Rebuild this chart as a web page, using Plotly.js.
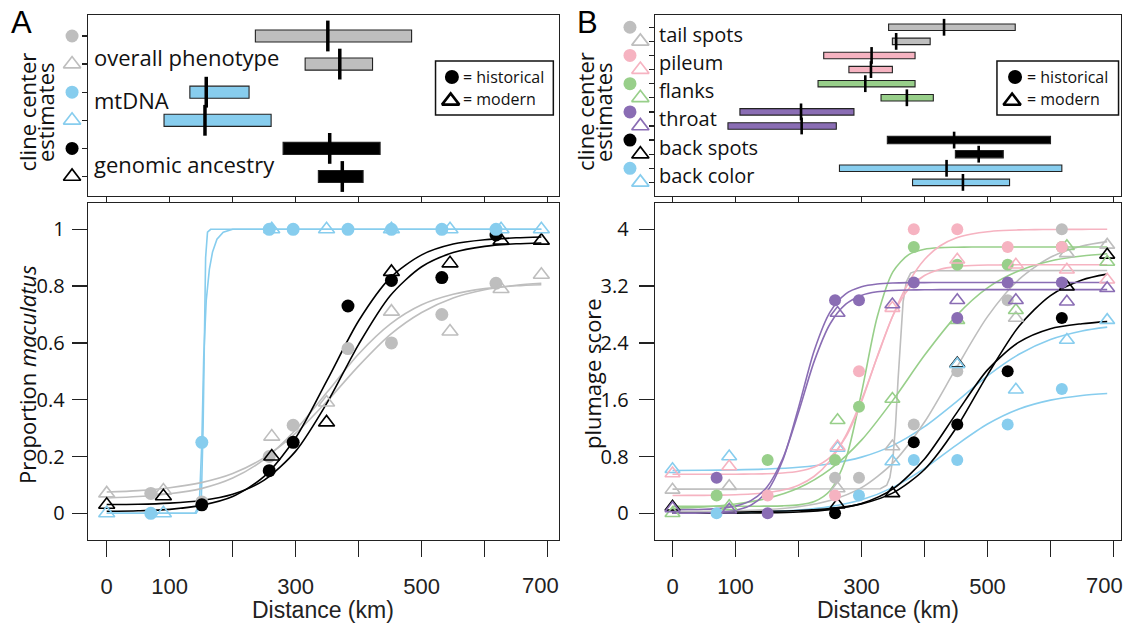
<!DOCTYPE html>
<html><head><meta charset="utf-8">
<script src="https://cdn.plot.ly/plotly-3.0.1.min.js"></script>
<style>html,body{margin:0;padding:0;background:#fff}#chart{width:1131px;height:625px}</style>
</head><body><div id="chart"></div>
<script>
// ---------- colours ----------
const GRAY = '#bebebe', BLUE = '#87cdee', PINK = '#f6b3c1', GREEN = '#98cf8a', PURPLE = '#8a6db4', BLACK = '#000000';

// ---------- sampling sites (km) ----------
const xHist = [70, 151, 258, 296, 383, 452, 532, 618];
const xMod  = [0, 90, 262, 349, 452, 545, 626, 690];

// ---------- Panel A: points ----------
const phenoHist = [0.07, 0.04, 0.2, 0.31, 0.58, 0.6, 0.7, 0.81];
const phenoMod  = [0.07, 0.08, 0.27, 0.39, 0.71, 0.64, 0.79, 0.84];
const mtHist    = [0, 0.25, 1, 1, 1, 1, 1, 1];
const mtMod     = [0, 0, 1, 1, 1, 1, 1, 1];
const genHist   = [null, 0.03, 0.15, 0.25, 0.73, 0.82, 0.83, 0.98];
const genMod    = [0.03, 0.06, 0.2, 0.32, 0.85, 0.88, 0.96, 0.96];

// ---------- Panel A: fitted clines ----------
const xFitA = [0, 50, 100, 150, 200, 250, 300, 350, 400, 450, 500, 550, 600, 650, 690];
const genHistFit   = [0.007, 0.009, 0.014, 0.028, 0.059, 0.13, 0.266, 0.469, 0.678, 0.829, 0.91, 0.948, 0.963, 0.97, 0.973];
const genModFit    = [0.031, 0.032, 0.036, 0.045, 0.067, 0.117, 0.219, 0.39, 0.595, 0.766, 0.868, 0.918, 0.94, 0.949, 0.952];
const phenoHistFit = [0.054, 0.059, 0.069, 0.087, 0.124, 0.19, 0.294, 0.427, 0.561, 0.666, 0.734, 0.771, 0.791, 0.801, 0.805];
const phenoModFit  = [0.075, 0.08, 0.09, 0.108, 0.14, 0.196, 0.282, 0.395, 0.519, 0.629, 0.707, 0.758, 0.787, 0.803, 0.81];
const mtHistFitX = [0, 140, 147, 151, 154, 158, 163, 168, 175, 185, 200, 690];
const mtHistFitY = [0, 0, 0.03, 0.25, 0.55, 0.75, 0.86, 0.92, 0.965, 0.99, 1, 1];
const mtModFitX  = [0, 142, 150, 153, 155, 157, 160, 165, 690];
const mtModFitY  = [0, 0, 0.03, 0.3, 0.6, 0.9, 0.99, 1, 1];

// ---------- Panel A: cline centre estimates ----------
const rowsA   = [6, 5, 4, 3, 2, 1];
const loA     = [236, 315, 132, 91, 280, 336];
const hiA     = [484, 422, 226, 261, 434, 407];
const centerA = [351, 370, 158, 156, 354, 374];
const colorsA = [GRAY, GRAY, BLUE, BLUE, BLACK, BLACK];
const labelsA = ['overall phenotype', 'mtDNA', 'genomic ancestry'];
const labelYA = [5.25, 3.72, 1.45];

// ---------- Panel B: points ----------
const tailHist  = [null, null, 0.5, 0.5, 1.25, 2.0, 3.0, 4.0];
const tailMod   = [0.33, 0.38, 0.35, 0.94, 2.1, 2.75, 3.66, 3.78];
const pileHist  = [null, 0.25, 0.25, 2.0, 4.0, 4.0, 3.75, 3.75];
const pileMod   = [0.56, 0.66, 0.94, 2.89, 3.57, 3.5, 3.43, 3.29];
const flankHist = [0.25, 0.75, 0.75, 1.5, 3.75, 3.5, 3.5, 3.75];
const flankMod  = [0, 0.1, 1.31, 1.61, 2.72, 2.86, 3.76, 3.54];
const throatHist= [0.5, 0, 3.0, 3.0, 3.25, 2.75, 3.25, 3.25];
const throatMod = [0.07, 0.05, 2.82, 2.94, 3.0, 3.0, 2.98, 3.17];
const bspotHist = [null, null, 0, null, 1.0, 1.25, 2.0, 2.75];
const bspotMod  = [0.09, null, 0.12, 0.28, 2.11, null, 3.19, 3.64];
const bcolHist  = [0, null, null, 0.25, 0.75, 0.75, 1.25, 1.75];
const bcolMod   = [0.62, 0.8, 0.92, 0.73, 2.1, 1.74, 2.44, 2.72];

// ---------- Panel B: fitted clines ----------
const xFitB50 = [0, 50, 100, 150, 200, 250, 300, 350, 400, 450, 500, 550, 600, 650, 690];
const tailHistFit  = [0.023, 0.027, 0.035, 0.053, 0.093, 0.18, 0.361, 0.71, 1.285, 2.04, 2.77, 3.295, 3.605, 3.764, 3.826];
const bspotHistFit = [0, 0.001, 0.003, 0.007, 0.019, 0.052, 0.137, 0.343, 0.765, 1.4, 2.02, 2.41, 2.6, 2.67, 2.7];
const bspotModFit  = [0.02, 0.021, 0.023, 0.028, 0.039, 0.066, 0.133, 0.288, 0.617, 1.197, 1.95, 2.634, 3.066, 3.286, 3.368];
const bcolHistFit  = [0.002, 0.005, 0.01, 0.021, 0.045, 0.094, 0.19, 0.365, 0.633, 0.958, 1.257, 1.469, 1.594, 1.66, 1.687];
const bcolModFit   = [0.603, 0.606, 0.612, 0.624, 0.649, 0.699, 0.791, 0.957, 1.22, 1.566, 1.936, 2.24, 2.448, 2.568, 2.622];
const flankModFit  = [0.071, 0.091, 0.131, 0.21, 0.356, 0.619, 1.03, 1.594, 2.225, 2.777, 3.174, 3.415, 3.554, 3.623, 3.656];
const xFitB25 = [0, 25, 50, 75, 100, 125, 150, 175, 200, 225, 250, 275, 300, 325, 350, 375, 400, 425, 450, 475, 500, 525, 550, 575, 600, 625, 650, 675, 690];
const throatHistFit = [0.001, 0.002, 0.005, 0.015, 0.042, 0.117, 0.309, 0.748, 1.488, 2.294, 2.834, 3.091, 3.19, 3.229, 3.243, 3.248, 3.249, 3.25, 3.25, 3.25, 3.25, 3.25, 3.25, 3.25, 3.25, 3.25, 3.25, 3.25, 3.25];
const throatModFit  = [0.051, 0.053, 0.058, 0.07, 0.101, 0.182, 0.372, 0.772, 1.423, 2.143, 2.666, 2.945, 3.069, 3.119, 3.138, 3.145, 3.148, 3.15, 3.15, 3.15, 3.15, 3.15, 3.15, 3.15, 3.15, 3.15, 3.15, 3.15, 3.15];
const pileHistFit   = [0.251, 0.252, 0.253, 0.256, 0.261, 0.271, 0.29, 0.327, 0.396, 0.522, 0.741, 1.094, 1.596, 2.2, 2.789, 3.254, 3.573, 3.768, 3.876, 3.933, 3.966, 3.982, 3.991, 3.995, 3.997, 3.998, 3.999, 4.0, 4.0];
const pileModFit    = [0.55, 0.55, 0.55, 0.551, 0.551, 0.553, 0.557, 0.568, 0.593, 0.653, 0.789, 1.072, 1.568, 2.208, 2.786, 3.161, 3.349, 3.438, 3.474, 3.489, 3.496, 3.498, 3.5, 3.5, 3.5, 3.5, 3.5, 3.5, 3.5];
const flankHistFit  = [0.1, 0.1, 0.1, 0.1, 0.1, 0.1, 0.101, 0.105, 0.119, 0.166, 0.319, 0.764, 1.699, 2.768, 3.403, 3.644, 3.719, 3.741, 3.747, 3.75, 3.75, 3.75, 3.75, 3.75, 3.75, 3.75, 3.75, 3.75, 3.75];
const tailModFitX = [0, 330, 340, 345, 350, 354, 358, 362, 366, 371, 378, 388, 690];
const tailModFitY = [0.34, 0.346, 0.395, 0.503, 0.783, 1.236, 1.88, 2.524, 2.977, 3.257, 3.383, 3.416, 3.42];

// ---------- Panel B: cline centre estimates ----------
const rowsB   = [12, 11, 10, 9, 8, 7, 6, 5, 4, 3, 2, 1];
const loB     = [343, 349, 240, 280, 231, 331, 107, 88, 341, 449, 265, 381];
const hiB     = [544, 409, 385, 349, 385, 414, 288, 260, 600, 525, 618, 535];
const centerB = [431, 355, 316, 315, 306, 372, 204, 205, 447, 486, 435, 461];
const colorsB = [GRAY, GRAY, PINK, PINK, GREEN, GREEN, PURPLE, PURPLE, BLACK, BLACK, BLUE, BLUE];
const labelsB = ['tail spots', 'pileum', 'flanks', 'throat', 'back spots', 'back color'];
const labelYB = [11.5, 9.5, 7.5, 5.5, 3.5, 1.5];

// ---------- axis ticks ----------
const kmTicks = [0, 100, 200, 300, 400, 500, 600, 700];
const kmText  = ['0', '100', '', '300', '', '500', '', ''];
const lastKm = 700, lastKmText = '700';
const propTicks = [0, 0.2, 0.4, 0.6, 0.8, 1];
const propText  = ['0', '0.2', '0.4', '0.6', '0.8', '1'];
const plumTicks = [0, 0.8, 1.6, 2.4, 3.2, 4];
const plumText  = ['0', '0.8', '1.6', '2.4', '3.2', '4'];

// ---------- helpers ----------
const FM = 'Open Sans, sans-serif';
const FH = 'Liberation Sans, Arial, sans-serif';
const W = 1131, H = 625;
function curve(x, y, color, xa, ya, shape) {
  return {type:'scatter', mode:'lines', x:x, y:y, xaxis:xa, yaxis:ya,
    line:{color:color, width:1.6, shape:shape || 'spline', smoothing:0.8}, hoverinfo:'skip'};
}
function dots(x, y, color, xa, ya, size) {
  return {type:'scatter', mode:'markers', x:x, y:y, xaxis:xa, yaxis:ya, cliponaxis:false,
    marker:{symbol:'circle', size:size, color:color, line:{width:0}}, hoverinfo:'skip'};
}
function tris(x, y, color, xa, ya, size, lw) {
  return {type:'scatter', mode:'markers', x:x, y:y, xaxis:xa, yaxis:ya, cliponaxis:false,
    marker:{symbol:'triangle-up-open', size:size, color:color, line:{width:lw || 1.6, color:color}}, hoverinfo:'skip'};
}

const traces = [];
// Panel A bottom
traces.push(curve(mtHistFitX, mtHistFitY, BLUE, 'x', 'y', 'linear'));
traces.push(curve(mtModFitX, mtModFitY, BLUE, 'x', 'y', 'linear'));
traces.push(curve(xFitA, phenoHistFit, GRAY, 'x', 'y'));
traces.push(curve(xFitA, phenoModFit, GRAY, 'x', 'y'));
traces.push(curve(xFitA, genHistFit, BLACK, 'x', 'y'));
traces.push(curve(xFitA, genModFit, BLACK, 'x', 'y'));
traces.push(dots(xHist, phenoHist, GRAY, 'x', 'y', 13));
traces.push(tris(xMod, phenoMod, GRAY, 'x', 'y', 14));
traces.push(dots(xHist, genHist, BLACK, 'x', 'y', 13));
traces.push(tris(xMod, genMod, BLACK, 'x', 'y', 14));
traces.push(dots(xHist, mtHist, BLUE, 'x', 'y', 13));
traces.push(tris(xMod, mtMod, BLUE, 'x', 'y', 14));

// Panel A top
traces.push({type:'bar', orientation:'h', y:rowsA, base:loA, x:loA.map((v, i) => hiA[i] - v),
  width:0.43, xaxis:'x2', yaxis:'y2', marker:{color:colorsA, line:{color:'#222', width:1.1}}, hoverinfo:'skip'});
traces.push({type:'scatter', mode:'markers', x:centerA, y:rowsA, xaxis:'x2', yaxis:'y2',
  marker:{symbol:'line-ns-open', size:22, color:'#000', line:{width:3.5, color:'#000'}}, hoverinfo:'skip'});
// row key symbols, left of the box (own hidden x axis, same km scale)
const keyA = -54;
traces.push(dots([keyA, keyA, keyA], [rowsA[0], rowsA[2], rowsA[4]], [GRAY, BLUE, BLACK], 'x5', 'y2', 13));
traces.push(tris([keyA, keyA, keyA], [rowsA[1], rowsA[3], rowsA[5]], [GRAY, BLUE, BLACK], 'x5', 'y2', 15, 1.7));
traces.push(dots([548], [4.54], BLACK, 'x2', 'y2', 14));
traces.push(tris([546], [3.69], BLACK, 'x2', 'y2', 15, 2.6));

// Panel B bottom
traces.push(curve(xFitB50, bcolHistFit, BLUE, 'x3', 'y3'));
traces.push(curve(xFitB50, bcolModFit, BLUE, 'x3', 'y3'));
traces.push(curve(xFitB50, bspotHistFit, BLACK, 'x3', 'y3'));
traces.push(curve(xFitB50, bspotModFit, BLACK, 'x3', 'y3'));
traces.push(curve(xFitB50, tailHistFit, GRAY, 'x3', 'y3'));
traces.push(curve(tailModFitX, tailModFitY, GRAY, 'x3', 'y3', 'linear'));
traces.push(curve(xFitB50, flankModFit, GREEN, 'x3', 'y3'));
traces.push(curve(xFitB25, flankHistFit, GREEN, 'x3', 'y3'));
traces.push(curve(xFitB25, pileHistFit, PINK, 'x3', 'y3'));
traces.push(curve(xFitB25, pileModFit, PINK, 'x3', 'y3'));
traces.push(curve(xFitB25, throatHistFit, PURPLE, 'x3', 'y3'));
traces.push(curve(xFitB25, throatModFit, PURPLE, 'x3', 'y3'));
const seriesB = [
  [tailHist, tailMod, GRAY], [bspotHist, bspotMod, BLACK], [bcolHist, bcolMod, BLUE],
  [flankHist, flankMod, GREEN], [pileHist, pileMod, PINK], [throatHist, throatMod, PURPLE]
];
seriesB.forEach(s => {
  traces.push(tris(xMod, s[1], s[2], 'x3', 'y3', 13));
  traces.push(dots(xHist, s[0], s[2], 'x3', 'y3', 12));
});

// Panel B top
traces.push({type:'bar', orientation:'h', y:rowsB, base:loB, x:loB.map((v, i) => hiB[i] - v),
  width:rowsB.map((r, i) => colorsB[i] === BLACK ? 0.52 : 0.46), xaxis:'x4', yaxis:'y4',
  marker:{color:colorsB, line:{color:'#222', width:1.1}}, hoverinfo:'skip'});
traces.push({type:'scatter', mode:'markers', x:centerB, y:rowsB, xaxis:'x4', yaxis:'y4',
  marker:{symbol:'line-ns-open', size:12, color:'#000', line:{width:2.6, color:'#000'}}, hoverinfo:'skip'});
const circRowsB = rowsB.filter((r, i) => i % 2 === 0), triRowsB = rowsB.filter((r, i) => i % 2 === 1);
const circColB = colorsB.filter((c, i) => i % 2 === 0), triColB = colorsB.filter((c, i) => i % 2 === 1);
traces.push(dots(circRowsB.map(() => -67.5), circRowsB, circColB, 'x6', 'y4', 13));
traces.push(tris(triRowsB.map(() => -51), triRowsB, triColB, 'x6', 'y4', 15, 1.7));
traces.push(dots([543.7], [8.475], BLACK, 'x4', 'y4', 14));
traces.push(tris([539], [6.77], BLACK, 'x4', 'y4', 15, 2.6));

// ---------- axes ----------
const base = {showline:true, mirror:true, linecolor:'#222', linewidth:1.3, showgrid:false, zeroline:false,
  ticks:'outside', tickcolor:'#222', tickwidth:1.3, fixedrange:true};
const hidden = {visible:false, showgrid:false, zeroline:false, fixedrange:true};
const domAx = [88 / W, 559 / W], domBx = [655 / W, 1121 / W];
const domBot = [1 - 540 / H, 1 - 203 / H], domTop = [1 - 196 / H, 1 - 15 / H];
const rangeA = [-29.7, 718], rangeB = [-27.8, 711.9];

const layout = {
  width:W, height:H, margin:{l:0, r:0, t:0, b:0}, paper_bgcolor:'#fff', plot_bgcolor:'rgba(0,0,0,0)',
  showlegend:false, barmode:'overlay', hovermode:false,
  xaxis: Object.assign({}, base, {domain:domAx, range:rangeA, anchor:'y', tickmode:'array', tickvals:kmTicks, ticktext:kmText,
    ticklen:16, ticklabelstandoff:10, tickfont:{family:FH, size:22, color:'#222'}}),
  yaxis: Object.assign({}, base, {domain:domBot, range:[-0.094, 1.0926], anchor:'x', tickmode:'array', tickvals:propTicks, ticktext:propText,
    ticklen:15, ticklabelstandoff:3, tickfont:{family:FM, size:20, color:'#111'}}),
  xaxis2: Object.assign({}, base, {domain:domAx, range:rangeA, anchor:'y2', tickmode:'array', tickvals:kmTicks,
    ticklen:5, showticklabels:false}),
  yaxis2: Object.assign({}, base, {domain:domTop, range:[0.306, 6.747], anchor:'x2', tickmode:'array', tickvals:rowsA,
    ticklen:5, showticklabels:false}),
  xaxis3: Object.assign({}, base, {domain:domBx, range:rangeB, anchor:'y3', tickmode:'array', tickvals:kmTicks, ticktext:kmText,
    ticklen:16, ticklabelstandoff:10, tickfont:{family:FH, size:22, color:'#222'}}),
  yaxis3: Object.assign({}, base, {domain:domBot, range:[-0.376, 4.37], anchor:'x3', tickmode:'array', tickvals:plumTicks, ticktext:plumText,
    ticklen:15, ticklabelstandoff:6, tickfont:{family:FM, size:20, color:'#111'}}),
  xaxis4: Object.assign({}, base, {domain:domBx, range:rangeB, anchor:'y4', tickmode:'array', tickvals:kmTicks,
    ticklen:5, showticklabels:false}),
  yaxis4: Object.assign({}, base, {domain:domTop, range:[0.035, 12.87], anchor:'x4', tickmode:'array', tickvals:rowsB,
    ticklen:5, showticklabels:false}),
  // hidden km axes left of the top boxes, holding the row key symbols
  xaxis5: Object.assign({}, hidden, {domain:[58 / W, 82 / W], range:[-76.3, -38.2], anchor:'y2'}),
  xaxis6: Object.assign({}, hidden, {domain:[618 / W, 650 / W], range:[-86.5, -35.7], anchor:'y4'}),
  shapes: [
    {type:'rect', xref:'x2', yref:'y2', x0:522, x1:709, y0:3.19, y1:5.11, line:{color:'#111', width:1.5}, fillcolor:'rgba(0,0,0,0)'},
    {type:'rect', xref:'x4', yref:'y4', x0:515, x1:708, y0:5.78, y1:9.61, line:{color:'#111', width:1.5}, fillcolor:'rgba(0,0,0,0)'}
  ],
  annotations: []
};
const ann = layout.annotations;
function txt(o) { ann.push(Object.assign({showarrow:false}, o)); }
// panel letters
txt({text:'A', xref:'paper', yref:'paper', x:21 / W, y:1 - 23 / H, xanchor:'center', yanchor:'middle', font:{family:FH, size:31, color:'#000'}});
txt({text:'B', xref:'paper', yref:'paper', x:587 / W, y:1 - 22 / H, xanchor:'center', yanchor:'middle', font:{family:FH, size:31, color:'#000'}});
// top y titles
[[26.5, 'cline center'], [45, 'estimates'], [585, 'cline center'], [603, 'estimates']].forEach(p => {
  txt({text:p[1], xref:'paper', yref:'paper', x:p[0] / W, y:1 - 112 / H, xanchor:'center', yanchor:'middle', textangle:-90,
    font:{family:FM, size:22, color:'#111'}});
});
// bottom y titles
txt({text:'Proportion <i>maculatus</i>', xref:'paper', yref:'paper', x:27 / W, y:1 - 375 / H, xanchor:'center', yanchor:'middle', textangle:-90,
  font:{family:FM, size:22, color:'#111'}});
txt({text:'plumage score', xref:'paper', yref:'paper', x:592 / W, y:1 - 374 / H, xanchor:'center', yanchor:'middle', textangle:-90,
  font:{family:FM, size:22, color:'#111'}});
// last x tick label (sits slightly left of its tick in the original)
txt({text:lastKmText, xref:'x', yref:'paper', x:lastKm, xshift:-7, y:1 - 585 / H, xanchor:'center', yanchor:'middle', font:{family:FH, size:22, color:'#222'}});
txt({text:lastKmText, xref:'x3', yref:'paper', x:lastKm, xshift:-9, y:1 - 585 / H, xanchor:'center', yanchor:'middle', font:{family:FH, size:22, color:'#222'}});
// x titles
txt({text:'Distance (km)', xref:'paper', yref:'paper', x:323 / W, y:1 - 610 / H, xanchor:'center', yanchor:'middle', font:{family:FH, size:23, color:'#222'}});
txt({text:'Distance (km)', xref:'paper', yref:'paper', x:888 / W, y:1 - 610 / H, xanchor:'center', yanchor:'middle', font:{family:FH, size:23, color:'#222'}});
// row labels
labelsA.forEach((t, i) => txt({text:t, xref:'x2', yref:'y2', x:-24, y:labelYA[i], xanchor:'left', yanchor:'middle', font:{family:FM, size:22, color:'#111'}}));
labelsB.forEach((t, i) => txt({text:t, xref:'x4', yref:'y4', x:-24, y:labelYB[i], xanchor:'left', yanchor:'middle', font:{family:FM, size:20, color:'#111'}}));
// legends
txt({text:'= historical', xref:'x2', yref:'y2', x:563, y:4.54, xanchor:'left', yanchor:'middle', font:{family:FM, size:16, color:'#111'}});
txt({text:'= modern', xref:'x2', yref:'y2', x:563, y:3.76, xanchor:'left', yanchor:'middle', font:{family:FM, size:16, color:'#111'}});
txt({text:'= historical', xref:'x4', yref:'y4', x:559, y:8.475, xanchor:'left', yanchor:'middle', font:{family:FM, size:16, color:'#111'}});
txt({text:'= modern', xref:'x4', yref:'y4', x:559, y:6.915, xanchor:'left', yanchor:'middle', font:{family:FM, size:16, color:'#111'}});

Plotly.newPlot('chart', traces, layout, {displayModeBar:false, staticPlot:true});
</script></body></html>
